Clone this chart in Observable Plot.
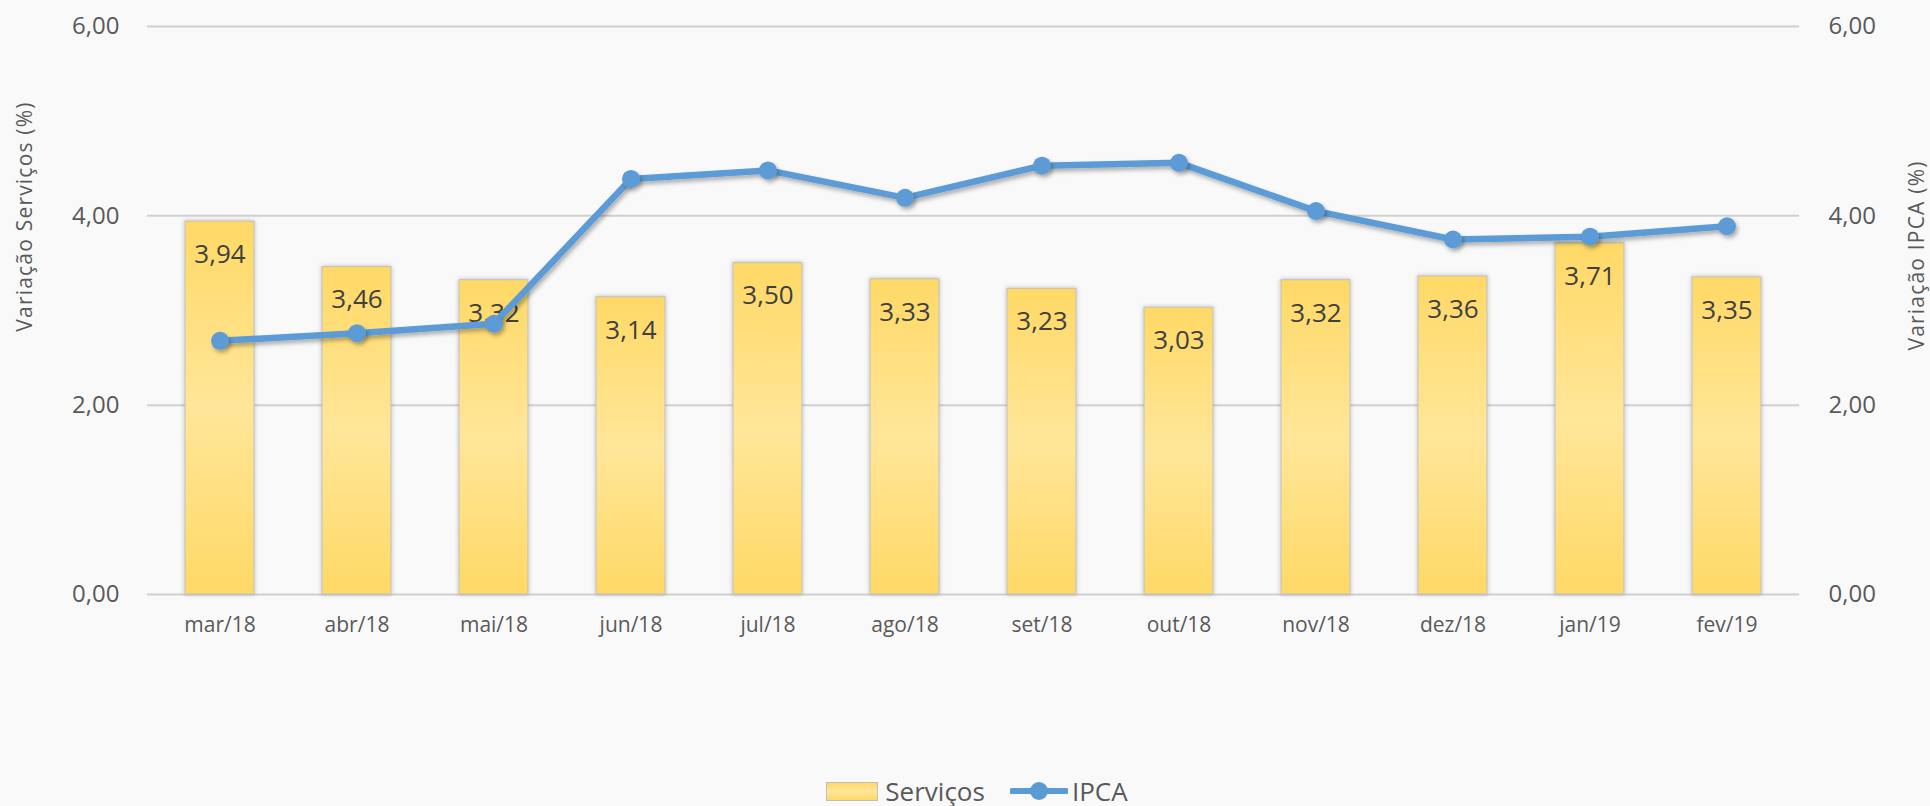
<!DOCTYPE html>
<html>
<head>
<meta charset="utf-8">
<script src="https://cdn.jsdelivr.net/npm/d3@7"></script>
<script src="https://cdn.jsdelivr.net/npm/@observablehq/plot@0.6"></script>
<style>
  html, body { margin: 0; padding: 0; background: #f9f9f9; }
  body { width: 1930px; height: 806px; overflow: hidden; font-family: "Open Sans", sans-serif; }
  #legend { height: 30px; padding-top: 16px; display: flex; justify-content: center; align-items: center;
            font-size: 26px; color: #595959; padding-left: 24px; }
  .sw-bar { width: 50px; height: 17px; border: 1px solid #bfbfbf;
            background: linear-gradient(to bottom, #ffd966, #ffe699 50%, #ffd966); }
</style>
</head>
<body>
<div id="chart"></div>
<div id="legend">
  <div class="sw-bar"></div><span style="margin-left:7px">Serviços</span>
  <svg width="58" height="22" style="margin-left:25px"><line x1="2" y1="11" x2="56" y2="11" stroke="#5b9bd5" stroke-width="6" stroke-linecap="round"/><circle cx="29" cy="11" r="9" fill="#5b9bd5"/></svg><span style="margin-left:4px">IPCA</span>
</div>
<script>
const months = ["mar/18","abr/18","mai/18","jun/18","jul/18","ago/18","set/18","out/18","nov/18","dez/18","jan/19","fev/19"];
const servicos = [3.94,3.46,3.32,3.14,3.50,3.33,3.23,3.03,3.32,3.36,3.71,3.35];
const ipca = [2.68,2.76,2.86,4.39,4.48,4.19,4.53,4.56,4.05,3.75,3.78,3.89];
const yTicks = [0,2,4,6];
const leftTitle = "Variação Serviços (%)";
const rightTitle = "Variação IPCA (%)";

const fmt = d => d.toFixed(2).replace(".", ",");
const data = months.map((m, i) => ({m, s: servicos[i], p: ipca[i]}));

const defs = () => {
  const ns = "http://www.w3.org/2000/svg";
  const d = document.createElementNS(ns, "defs");
  d.innerHTML = `<linearGradient id="barGrad" x1="0" y1="0" x2="0" y2="1">
      <stop offset="0" stop-color="#ffd966"/>
      <stop offset="0.5" stop-color="#ffe699"/>
      <stop offset="1" stop-color="#ffd966"/>
    </linearGradient>
    <filter id="lineShadow" x="-5%" y="-30%" width="110%" height="160%">
      <feDropShadow dx="2" dy="3" stdDeviation="2" flood-color="#000" flood-opacity="0.3"/>
    </filter>
    <filter id="barShadow" x="-20%" y="-5%" width="140%" height="110%">
      <feDropShadow dx="0" dy="0" stdDeviation="2" flood-color="#000" flood-opacity="0.25"/>
    </filter>`;
  return d;
};

const chart = Plot.plot({
  width: 1930,
  height: 760,
  marginTop: 26,
  marginBottom: 166,
  marginLeft: 147,
  marginRight: 131,
  style: {background: "transparent", fontFamily: "'Open Sans', sans-serif", color: "#595959", overflow: "visible"},
  x: {domain: months, paddingInner: 0.5, paddingOuter: 0.25, label: null},
  y: {domain: [0, 6], label: null},
  marks: [
    defs,
    Plot.gridY(yTicks, {stroke: "#d0d0d0", strokeOpacity: 1, strokeWidth: 2}),
    Plot.axisY(yTicks, {anchor: "left", tickSize: 0, tickPadding: 28, tickFormat: fmt, fontSize: 24, label: null, fill: "#595959"}),
    Plot.axisY(yTicks, {anchor: "right", tickSize: 0, tickPadding: 29, tickFormat: fmt, fontSize: 24, label: null, fill: "#595959"}),
    Plot.axisX({tickSize: 0, tickPadding: 23, fontSize: 21, label: null, fill: "#595959"}),
    Plot.barY(data, {x: "m", y: "s", fill: "url(#barGrad)", stroke: "#bfbfbf", strokeWidth: 1}),
    Plot.text(data, {x: "m", y: "s", text: d => fmt(d.s), dy: 33, fontSize: 26, fill: "#404040"}),
    Plot.line(data, {x: "m", y: "p", stroke: "#5b9bd5", strokeWidth: 6.5}),
    Plot.dot(data, {x: "m", y: "p", r: 9, fill: "#5b9bd5", stroke: "none"}),
    Plot.text([leftTitle], {frameAnchor: "left", textAnchor: "middle", rotate: -90, dx: -122, dy: -94, fontSize: 21, fill: "#595959"}),
    Plot.text([rightTitle], {frameAnchor: "right", textAnchor: "middle", rotate: -90, dx: 118, dy: -55, fontSize: 21, fill: "#595959"})
  ]
});

d3.select(chart).selectAll("g[aria-label=line], g[aria-label=dot]").attr("filter", "url(#lineShadow)");
d3.select(chart).selectAll("g[aria-label=bar]").attr("filter", "url(#barShadow)");
const textGroups = d3.select(chart).selectAll("g[aria-label=text]").nodes();
textGroups.slice(-2).forEach(g => d3.select(g).style("letter-spacing", "1.2px"));
document.getElementById("chart").appendChild(chart);
</script>
</body>
</html>
